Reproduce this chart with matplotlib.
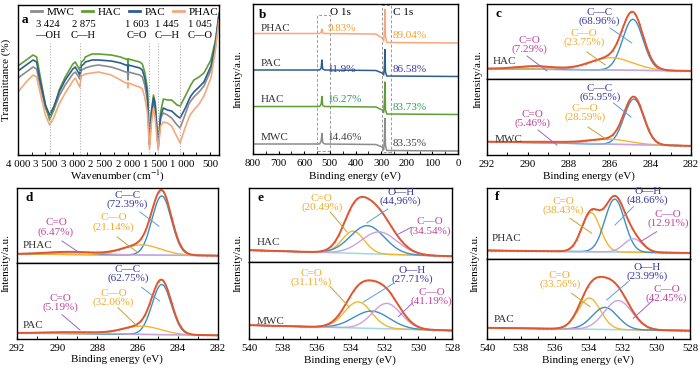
import numpy as np
import matplotlib
matplotlib.use("Agg")
import matplotlib.pyplot as plt
from matplotlib.ticker import MultipleLocator
from matplotlib.patches import Rectangle

plt.rcParams['font.family'] = ['Liberation Serif', 'DejaVu Serif']
plt.rcParams['mathtext.fontset'] = 'stix'
plt.rcParams['axes.linewidth'] = 1.0

# ---------------- DATA ----------------
samples = ["MWC", "HAC", "PAC", "PHAC"]
sample_colors = ["#8c8c8c", "#5f9e35", "#2d5f8e", "#f6a87c"]

# (a) FTIR
ftir_wn = [4000, 3850, 3725, 3660, 3600, 3500, 3424, 3350, 3250, 3139, 3000, 2956, 2895, 2875, 2846,
           2800, 2773, 2650, 2534, 2300, 2131, 2040, 2005, 1995, 1985, 1850, 1780, 1734, 1690, 1642,
           1603, 1570, 1530, 1500, 1445, 1400, 1350, 1276, 1200, 1100, 1045, 950, 886, 850, 794,
           700, 611, 483, 400, 336]
ftir_mwc = [77, 83, 88, 86, 70, 47, 38, 45, 59, 70, 81, 83, 78, 76, 85, 86, 87, 89, 90, 88, 85, 83, 83, 75, 83,
            81, 80, 78, 70, 55, 10, 38, 53, 45, 7, 37, 42, 40, 37, 30, 27, 41, 51, 54, 58, 63, 69, 85, 109, 138]
ftir_hac = [89, 95, 100, 98, 80, 50, 35, 45, 65, 78, 91, 93, 87, 85, 93, 95, 98, 101, 101, 100, 98, 96, 96, 91, 96,
            94, 93, 91, 83, 67, 12, 43, 60, 53, 9, 43, 56, 55, 55, 50, 49, 59, 66, 70, 75, 78, 82, 95, 115, 142]
ftir_pac = [84, 90, 95, 93, 75, 50, 40, 48, 63, 75, 86, 88, 82, 80, 89, 91, 93, 95, 95, 94, 92, 90, 90, 84, 90,
            88, 87, 85, 77, 61, 11, 41, 57, 50, 8, 39, 47, 45, 44, 39, 37, 47, 55, 59, 63, 68, 73, 89, 112, 140]
ftir_phac = [63, 73, 80, 78, 63, 40, 30, 37, 51, 62, 74, 77, 70, 68, 79, 80, 81, 82, 83, 80, 75, 72, 72, 67, 72,
             69, 68, 66, 58, 43, 6, 31, 47, 37, 5, 29, 33, 32, 29, 18, 12, 28, 37, 41, 45, 51, 59, 77, 105, 135]
ftir_ticks = [4000, 3500, 3000, 2500, 2000, 1500, 1000, 500]
ftir_ticklabels = ["4 000", "3 500", "3 000", "2 500", "2 000", "1 500", "1 000", "500"]
ftir_bands = [3424, 2875, 1603, 1445, 1045]
ftir_band_numbers = ["3 424", "2 875", "1 603", "1 445", "1 045"]
ftir_band_groups = ["\u2014OH", "C\u2014H", "C=O", "C\u2014H", "C\u2014O"]

# (b) XPS survey
survey_be = [800, 540, 534, 531, 528, 520, 320, 296, 290, 287, 285, 283, 278, 0]
survey_mwc = [10, 10, 13, 20.5, 11.5, 10, 9.5, 7, 4, 16, 35.5, 8, 3.5, 3]
survey_hac = [47.5, 47.5, 50, 57.5, 48.5, 47.5, 47, 44, 41.5, 54, 72, 44, 40, 39.5]
survey_pac = [84, 84, 86, 94, 85, 84, 83.5, 81, 79, 89, 104.5, 82, 78, 77.5]
survey_phac = [120.5, 120.5, 122, 125, 121, 120.5, 120, 116, 113, 124, 144.5, 118, 111.5, 111]
o1s_pct = ["14.46%", "16.27%", "11.9%", "9.83%"]
c1s_pct = ["83.35%", "83.73%", "86.58%", "89.04%"]
pct_colors = ["#444444", "#2ca05a", "#3b3ba0", "#f5a030"]

# (c)-(f) XPS high resolution fits: components [center eV, height, sigma], background [high-BE end, low-BE end]
c1s_names = ["C\u2014C", "C\u2014O", "C=O"]
o1s_names = ["C=O", "O\u2014H", "C\u2014O"]

hac_c1s_center = [284.85, 285.9, 289.6]
hac_c1s_height = [0.68, 0.165, 0.04]
hac_c1s_sigma = [0.5, 1.05, 0.9]
hac_c1s_bg = [0.138, 0.107]
hac_c1s_pct = ["68.96%", "23.75%", "7.29%"]

mwc_c1s_center = [284.8, 286.0, 288.8]
mwc_c1s_height = [0.60, 0.066, 0.015]
mwc_c1s_sigma = [0.48, 1.0, 1.2]
mwc_c1s_bg = [0.175, 0.12]
mwc_c1s_pct = ["65.95%", "28.59%", "5.46%"]

phac_c1s_center = [284.8, 285.8, 289.3]
phac_c1s_height = [0.79, 0.135, 0.035]
phac_c1s_sigma = [0.48, 0.95, 1.2]
phac_c1s_bg = [0.12, 0.098]
phac_c1s_pct = ["72.39%", "21.14%", "6.47%"]

pac_c1s_center = [284.8, 285.8, 289.0]
pac_c1s_height = [0.66, 0.11, 0.02]
pac_c1s_sigma = [0.48, 0.95, 1.2]
pac_c1s_bg = [0.08, 0.048]
pac_c1s_pct = ["62.75%", "32.06%", "5.19%"]

hac_o1s_center = [533.84, 533.0, 532.3]
hac_o1s_height = [0.30, 0.38, 0.30]
hac_o1s_sigma = [0.65, 1.0, 1.05]
hac_o1s_bg = [0.16, 0.077]
hac_o1s_pct = ["20.49%", "44,96%", "34.54%"]

mwc_o1s_center = [533.55, 532.75, 531.86]
mwc_o1s_height = [0.34, 0.225, 0.33]
mwc_o1s_sigma = [0.8, 1.05, 0.85]
mwc_o1s_bg = [0.18, 0.11]
mwc_o1s_pct = ["31.11%", "27.71%", "41.19%"]

phac_o1s_center = [533.85, 532.45, 531.35]
phac_o1s_height = [0.55, 0.745, 0.19]
phac_o1s_sigma = [0.55, 0.58, 0.55]
phac_o1s_bg = [0.12, 0.085]
phac_o1s_pct = ["38.43%", "48.66%", "12.91%"]

pac_o1s_center = [533.95, 533.03, 532.24]
pac_o1s_height = [0.39, 0.276, 0.364]
pac_o1s_sigma = [0.66, 0.75, 0.82]
pac_o1s_bg = [0.14, 0.104]
pac_o1s_pct = ["33.56%", "23.99%", "42.45%"]

# ---------------- STYLE ----------------
W, H = 700, 370
fig = plt.figure(figsize=(W / 100, H / 100), dpi=100)
FS = 8
TICK_FS = 7.8

ENV = "#e2562f"
BLUE = "#3e8ec4"
YEL = "#f2b630"
PURP = "#c9a3dc"
BG = "#9fd8ea"
TXT_BLUE = "#3a3a9c"
TXT_YEL = "#f0ac2a"
TXT_MAG = "#c0449c"
LN_BLUE = "#5a9fd6"
LN_YEL = "#c2a332"
LN_PURP = "#9a66c8"


def px_axes(x0, y0, x1, y1):
    return fig.add_axes([x0 / W, 1 - y1 / H, (x1 - x0) / W, (y1 - y0) / H])


def ftext(px, py, s, **kw):
    fig.text(px / W, 1 - py / H, s, **kw)


# ---------------- (a) ----------------
axa = px_axes(18, 5, 219, 155)
for name, vals, col in zip(samples, [ftir_mwc, ftir_hac, ftir_pac, ftir_phac], sample_colors):
    axa.plot(ftir_wn, vals, color=col, lw=1.2, label=name)
axa.set_xlim(4000, 336)
axa.set_ylim(0, 150)
axa.set_yticks([])
axa.set_xticks(ftir_ticks)
axa.set_xticklabels(ftir_ticklabels)
axa.xaxis.set_minor_locator(MultipleLocator(250))
axa.tick_params(axis='x', which='both', direction='in', labelsize=TICK_FS, pad=3.5, length=2.5)
for wn in ftir_bands:
    axa.plot([wn, wn], [0, 112], color="#b0b0b0", lw=0.8, ls=(0, (1, 1.5)))
band_text_x = [3460, 2809, 1838, 1280, 684]
for tx, num, grp in zip(band_text_x, ftir_band_numbers, ftir_band_groups):
    axa.text(tx, 130, num, ha='center', va='center', fontsize=7.6)
    axa.text(tx, 119, grp, ha='center', va='center', fontsize=7.6)
leg = axa.legend(ncol=4, loc='upper center', bbox_to_anchor=(0.53, 1.03), frameon=False,
                 fontsize=FS, handlelength=1.0, handletextpad=0.4, columnspacing=0.7,
                 borderpad=0.1)
for h in leg.legend_handles:
    h.set_linewidth(2.0)
axa.text(0.02, 0.9, "a", transform=axa.transAxes, fontsize=FS + 1.5, fontweight='bold',
         ha='left', va='center')
ftext(6, 80, "Transmittance (%)", rotation=90, ha='center', va='center', fontsize=FS)
ftext(118, 176, "Wavenumber (cm$^{-1}$)", ha='center', va='center', fontsize=FS)

# ---------------- (b) ----------------
axb = px_axes(253, 4, 458, 154)
survey_sets = [survey_mwc, survey_hac, survey_pac, survey_phac]
for name, vals, col in zip(samples, survey_sets, sample_colors):
    axb.plot(survey_be, vals, color=col, lw=1.1)
axb.set_xlim(800, 0)
axb.set_ylim(0, 150)
axb.set_yticks([])
axb.xaxis.set_major_locator(MultipleLocator(100))
axb.xaxis.set_minor_locator(MultipleLocator(50))
axb.tick_params(axis='x', which='both', direction='in', labelsize=TICK_FS, pad=3.5, length=2.5)
axb.add_patch(Rectangle((499, 3.3), 50, 135.7, fill=False, ec="#9a9a9a", lw=0.7, ls=(0, (3, 2))))
axb.add_patch(Rectangle((262, 2), 33.7, 147, fill=False, ec="#9a9a9a", lw=0.7, ls=(0, (3, 2))))
axb.text(460, 141, "O 1s", ha='center', va='center', fontsize=FS)
axb.text(215, 141, "C 1s", ha='center', va='center', fontsize=FS)
name_y = [17, 54, 90.5, 125]
o_y = [17, 55, 84, 125]
c_y = [11, 47, 84, 118]
for i, name in enumerate(samples):
    axb.text(771, name_y[i], name, ha='left', va='center', fontsize=FS, color="#333333")
    axb.text(507, o_y[i], o1s_pct[i], ha='left', va='center', fontsize=FS, color=pct_colors[i])
    axb.text(254, c_y[i], c1s_pct[i], ha='left', va='center', fontsize=FS, color=pct_colors[i])
axb.text(0.03, 0.925, "b", transform=axb.transAxes, fontsize=FS + 1.5, fontweight='bold',
         ha='left', va='center')
ftext(238, 79, "Intensity/a.u.", rotation=90, ha='center', va='center', fontsize=FS)
ftext(355, 176, "Binding energy (eV)", ha='center', va='center', fontsize=FS)


# ---------------- XPS helpers ----------------
def xps_sub(ax, xlim, centers, heights, sigmas, bg_ends, comp_colors):
    x = np.linspace(min(xlim), max(xlim), 500)
    bg = np.interp(x, [min(xlim), max(xlim)], [bg_ends[1], bg_ends[0]])
    env = bg.copy()
    comps = []
    for c, h, s in zip(centers, heights, sigmas):
        g = h * np.exp(-0.5 * ((x - c) / s) ** 2)
        env = env + g
        comps.append(bg + g)
    ax.plot(x, bg, color=BG, lw=1.1)
    for comp, col in zip(comps, comp_colors):
        ax.plot(x, comp, color=col, lw=1.0)
    xd = np.arange(min(xlim) + 0.1, max(xlim), 0.22)
    ax.plot(xd, np.interp(xd, x, env), ls='none', marker='o', ms=1.3, mfc="#b3b3b3", mec='none')
    ax.plot(x, env, color=ENV, lw=1.4)
    ax.set_xlim(*xlim)
    ax.set_ylim(0, 1)
    ax.set_yticks([])


def annotate_sub(ax, names, pcts, txt_xy, txt_colors, ptrs, ptr_colors, sample, sample_xy):
    for nm, pc, (tx, ty), tc, (x1, y1, x2, y2), lc in zip(names, pcts, txt_xy, txt_colors, ptrs, ptr_colors):
        ax.text(tx, ty, nm + "\n(" + pc + ")", ha='center', va='center', fontsize=FS,
                color=tc, linespacing=0.95)
        ax.plot([x1, x2], [y1, y2], color=lc, lw=0.7)
    ax.text(sample_xy[0], sample_xy[1], sample, ha='left', va='center', fontsize=FS, color="#333333")


def xps_panel(box, xlim, top, bot, letter, is_c1s):
    x0, x1, y0, ym, y1 = box
    axt = px_axes(x0, y0, x1, ym)
    axl = px_axes(x0, ym, x1, y1)
    comp_cols = [BLUE, YEL, PURP] if is_c1s else [YEL, BLUE, PURP]
    for ax, d in ((axt, top), (axl, bot)):
        xps_sub(ax, xlim, d['c'], d['h'], d['s'], d['bg'], comp_cols)
    axt.set_xticks([])
    axl.xaxis.set_major_locator(MultipleLocator(2))
    axl.xaxis.set_minor_locator(MultipleLocator(1))
    axl.tick_params(axis='x', which='both', direction='in', labelsize=TICK_FS, pad=3.5, length=2.5)
    axt.text(0.04, 0.87, letter, transform=axt.transAxes, fontsize=FS + 1.5, fontweight='bold',
             ha='left', va='center')
    return axt, axl


c_txt_cols = [TXT_BLUE, TXT_YEL, TXT_MAG]
c_ln_cols = [LN_BLUE, LN_YEL, LN_PURP]
o_txt_cols = [TXT_YEL, TXT_BLUE, TXT_MAG]
o_ln_cols = [LN_YEL, LN_BLUE, LN_PURP]

# ---------------- (c) ----------------
ct, cb = xps_panel((487, 691, 4, 79, 155), (292, 282),
                   dict(c=hac_c1s_center, h=hac_c1s_height, s=hac_c1s_sigma, bg=hac_c1s_bg),
                   dict(c=mwc_c1s_center, h=mwc_c1s_height, s=mwc_c1s_sigma, bg=mwc_c1s_bg),
                   "c", True)
annotate_sub(ct, c1s_names, hac_c1s_pct, [(286.5, 0.827), (287.25, 0.547), (289.9, 0.453)], c_txt_cols,
             [(285.97, 0.68, 284.9, 0.48), (287.1, 0.36, 286.2, 0.187), (290.04, 0.307, 289.06, 0.107)],
             c_ln_cols, "HAC", (291.7, 0.227))
annotate_sub(cb, c1s_names, mwc_c1s_pct, [(286.46, 0.816), (287.2, 0.553), (289.75, 0.47)], c_txt_cols,
             [(285.8, 0.684, 284.94, 0.5), (287.05, 0.368, 286.1, 0.197), (289.5, 0.329, 288.57, 0.13)],
             c_ln_cols, "MWC", (291.6, 0.21))
ftext(478, 79, "Intensity/a.u.", rotation=90, ha='center', va='center', fontsize=FS)
ftext(589, 176, "Binding energy (eV)", ha='center', va='center', fontsize=FS)

# ---------------- (d) ----------------
dt, db = xps_panel((17, 218, 188, 263, 339), (292, 282),
                   dict(c=phac_c1s_center, h=phac_c1s_height, s=phac_c1s_sigma, bg=phac_c1s_bg),
                   dict(c=pac_c1s_center, h=pac_c1s_height, s=pac_c1s_sigma, bg=pac_c1s_bg),
                   "d", True)
annotate_sub(dt, c1s_names, phac_c1s_pct, [(286.5, 0.84), (287.2, 0.54), (290.06, 0.473)], c_txt_cols,
             [(285.88, 0.68, 284.94, 0.49), (287.02, 0.347, 286.03, 0.147), (289.76, 0.293, 288.87, 0.133)],
             c_ln_cols, "PHAC", (291.7, 0.227))
annotate_sub(db, c1s_names, pac_c1s_pct, [(286.48, 0.86), (287.2, 0.54), (289.86, 0.47)], c_txt_cols,
             [(285.8, 0.68, 284.9, 0.5), (286.97, 0.41, 285.98, 0.16), (289.76, 0.32, 288.87, 0.12)],
             c_ln_cols, "PAC", (291.7, 0.18))
ftext(6, 263, "Intensity/a.u.", rotation=90, ha='center', va='center', fontsize=FS)
ftext(117, 359, "Binding energy (eV)", ha='center', va='center', fontsize=FS)

# ---------------- (e) ----------------
et, eb = xps_panel((249, 452, 188, 262, 339), (540, 528),
                   dict(c=hac_o1s_center, h=hac_o1s_height, s=hac_o1s_sigma, bg=hac_o1s_bg),
                   dict(c=mwc_o1s_center, h=mwc_o1s_height, s=mwc_o1s_sigma, bg=mwc_o1s_bg),
                   "e", False)
annotate_sub(et, o1s_names, hac_o1s_pct, [(535.7, 0.8), (531.03, 0.88), (529.3, 0.48)], o_txt_cols,
             [(535.2, 0.676, 534.2, 0.405), (531.8, 0.716, 533.04, 0.527), (530.4, 0.47, 531.27, 0.365)],
             o_ln_cols, "HAC", (539.55, 0.27))
annotate_sub(eb, o1s_names, mwc_o1s_pct, [(536.3, 0.795), (530.37, 0.83), (529.2, 0.545)], o_txt_cols,
             [(535.2, 0.68, 534.1, 0.42), (531.47, 0.72, 533.24, 0.48), (530.38, 0.46, 531.17, 0.29)],
             o_ln_cols, "MWC", (539.55, 0.225))
ftext(238, 263, "Intensity/a.u.", rotation=90, ha='center', va='center', fontsize=FS)
ftext(350, 360, "Binding energy (eV)", ha='center', va='center', fontsize=FS)

# ---------------- (f) ----------------
ft, fb = xps_panel((487, 690, 188, 259, 339), (540, 528),
                   dict(c=phac_o1s_center, h=phac_o1s_height, s=phac_o1s_sigma, bg=phac_o1s_bg),
                   dict(c=pac_o1s_center, h=pac_o1s_height, s=pac_o1s_sigma, bg=pac_o1s_bg),
                   "f", False)
annotate_sub(ft, o1s_names, phac_o1s_pct, [(535.5, 0.746), (530.5, 0.887), (529.3, 0.563)], o_txt_cols,
             [(535.09, 0.573, 533.81, 0.362), (531.35, 0.737, 532.43, 0.479), (529.97, 0.385, 530.86, 0.254)],
             o_ln_cols, "PHAC", (539.7, 0.29))
annotate_sub(fb, o1s_names, pac_o1s_pct, [(535.69, 0.741), (530.56, 0.834), (529.38, 0.5625)], o_txt_cols,
             [(535.0, 0.571, 533.91, 0.404), (531.65, 0.716, 532.93, 0.4875), (530.17, 0.4875, 531.35, 0.259)],
             o_ln_cols, "PAC", (539.6, 0.2375))
ftext(475, 263, "Intensity/a.u.", rotation=90, ha='center', va='center', fontsize=FS)
ftext(588, 360, "Binding energy (eV)", ha='center', va='center', fontsize=FS)

fig.savefig("out.png", dpi=100)
